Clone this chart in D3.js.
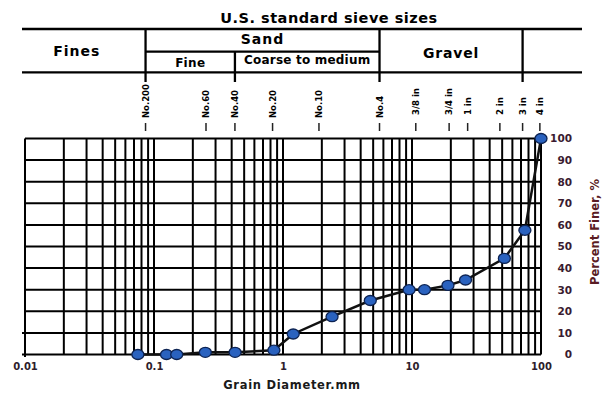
<!DOCTYPE html>
<html>
<head>
<meta charset="utf-8">
<script src="https://cdn.jsdelivr.net/npm/d3@7"></script>
<style>
  body { margin: 0; background: #fff; }
  text { font-family: "DejaVu Sans", sans-serif; font-weight: bold; }
</style>
</head>
<body>
<svg id="chart" width="610" height="401"></svg>
<script>
// Grain size distribution: diameter (mm) and percent finer (%)
let diameters = [0.075, 0.125, 0.15, 0.25, 0.425, 0.85, 1.2, 2.4, 4.75, 9.5, 12.5, 19, 26, 52, 75, 100];
let percentFiner = [0, 0, 0, 1, 1, 2, 9.5, 17.5, 25, 30, 30, 32, 34.5, 44.5, 57.5, 100];

// US sieve labels along the top and where they sit on the diameter axis (as drawn)
let sieveNames = ["No.200", "No.60", "No.40", "No.20", "No.10", "No.4",
                  "3/8 in", "3/4 in", "1 in", "2 in", "3 in", "4 in"];
let sievePos = [0.086, 0.253, 0.424, 0.83, 1.9, 5.6, 10.7, 19.4, 27, 48, 72, 98];

// tick labels
let xTicks = [0.01, 0.1, 1, 10, 100];
let yTicks = [0, 10, 20, 30, 40, 50, 60, 70, 80, 90, 100];

// soil classes in the header table (boundaries are sieve names)
let classBounds = ["No.200", "No.40", "No.4", "3 in"];

////////////////////////////////////////////////////////////////////////
// layout

let svg = d3.select("#chart");
let plotLeft = 25, plotRight = 541, plotTop = 138.5, plotBottom = 354.5;

let xScale = d3.scaleLog()
  .domain([0.01, 100])
  .range([plotLeft, plotRight]);

let yScale = d3.scaleLinear()
  .domain([0, 100])
  .range([plotBottom, plotTop]);

function sieveX(name) {
  return xScale(sievePos[sieveNames.indexOf(name)]);
}

////////////////////////////////////////////////////////////////////////
// header: title + soil class table

svg.append("text")
  .attr("x", 329).attr("y", 22.5)
  .attr("text-anchor", "middle")
  .attr("font-size", 14.5)
  .attr("letter-spacing", 0.5)
  .text("U.S. standard sieve sizes");

let tbl = svg.append("g")
  .attr("stroke", "#000")
  .attr("stroke-width", 2.3);

let tTop = 29, tMid = 51.7, tBot = 72.3, tEnd = 82;
let b200 = sieveX(classBounds[0]);
let b40 = sieveX(classBounds[1]);
let b4 = sieveX(classBounds[2]);
let b3in = sieveX(classBounds[3]);

tbl.append("line").attr("x1", 22).attr("x2", 582).attr("y1", tTop).attr("y2", tTop);
tbl.append("line").attr("x1", 22).attr("x2", 582).attr("y1", tBot).attr("y2", tBot);
tbl.append("line").attr("x1", b200).attr("x2", b4).attr("y1", tMid).attr("y2", tMid);
[b200, b4, b3in].forEach(function(x) {
  tbl.append("line").attr("x1", x).attr("x2", x).attr("y1", tTop).attr("y2", tEnd);
});
tbl.append("line").attr("x1", b40).attr("x2", b40).attr("y1", tMid).attr("y2", tEnd);

function cell(x, y, size, spacing, label) {
  svg.append("text")
    .attr("x", x).attr("y", y)
    .attr("text-anchor", "middle")
    .attr("font-size", size)
    .attr("letter-spacing", spacing)
    .text(label);
}
cell((22 + b200) / 2 - 7, 56, 14, 1, "Fines");
cell((b200 + b4) / 2, 44, 14, 1, "Sand");
cell((b200 + b40) / 2, 67, 12, 0.3, "Fine");
cell((b40 + b4) / 2, 64, 12, 0.2, "Coarse to medium");
cell((b4 + b3in) / 2, 58, 14, 0.8, "Gravel");

////////////////////////////////////////////////////////////////////////
// sieve labels on top of the plot

let sieves = svg.append("g");
sieveNames.forEach(function(name, i) {
  let x = xScale(sievePos[i]);
  let isInch = name.indexOf("in") > 0;
  sieves.append("line")
    .attr("x1", x).attr("x2", x)
    .attr("y1", 123).attr("y2", 131)
    .attr("stroke", "#222").attr("stroke-width", 1.5);
  sieves.append("text")
    .attr("transform", "translate(" + (x + 3) + "," + (isInch ? 115 : 118) + ") rotate(-90)")
    .attr("font-size", 8.5)
    .text(name);
});

////////////////////////////////////////////////////////////////////////
// grid

let minorX = [];
[0.01, 0.1, 1, 10].forEach(function(dec) {
  for (let k = 1; k <= 9; k++) minorX.push(dec * k);
});
minorX.push(100);

let grid = svg.append("g")
  .attr("stroke", "#000")
  .attr("stroke-width", 2);

grid.selectAll("line.v")
  .data(minorX)
  .enter()
  .append("line")
  .attr("class", "v")
  .attr("x1", function(d) { return xScale(d); })
  .attr("x2", function(d) { return xScale(d); })
  .attr("y1", plotTop)
  .attr("y2", function(d) { return d === 0.01 ? plotBottom + 2.5 : plotBottom; });

grid.selectAll("line.h")
  .data(yTicks)
  .enter()
  .append("line")
  .attr("class", "h")
  .attr("x1", function(d) { return d <= 10 ? plotLeft - 3 : plotLeft; })
  .attr("x2", plotRight)
  .attr("y1", function(d) { return yScale(d); })
  .attr("y2", function(d) { return yScale(d); });

////////////////////////////////////////////////////////////////////////
// axes labels

let xAxis = svg.append("g")
  .attr("transform", "translate(0," + plotBottom + ")")
  .call(d3.axisBottom(xScale)
    .tickValues(xTicks)
    .tickSize(0)
    .tickPadding(8)
    .tickFormat(function(d) { return String(d); }));
xAxis.select(".domain").remove();
xAxis.selectAll("text")
  .attr("font-family", "DejaVu Sans")
  .attr("font-size", 10)
  .attr("fill", "#2e1d2c");

let yAxis = svg.append("g")
  .attr("transform", "translate(" + plotRight + ",0)")
  .call(d3.axisRight(yScale)
    .tickValues(yTicks)
    .tickSize(0));
yAxis.select(".domain").remove();
yAxis.selectAll("text")
  .attr("x", 31)
  .attr("text-anchor", "end")
  .attr("font-family", "DejaVu Sans")
  .attr("font-size", 10.5)
  .attr("fill", "#3a1b30");

svg.append("text")
  .attr("x", 292).attr("y", 389)
  .attr("text-anchor", "middle")
  .attr("font-size", 11.5)
  .attr("letter-spacing", 0.7)
  .attr("fill", "#1a1a1a")
  .text("Grain Diameter.mm");

svg.append("text")
  .attr("transform", "translate(599,232) rotate(-90)")
  .attr("text-anchor", "middle")
  .attr("font-size", 11.5)
  .attr("fill", "#5a1c24")
  .text("Percent Finer, %");

////////////////////////////////////////////////////////////////////////
// gradation curve

let pts = diameters.map(function(d, i) { return [d, percentFiner[i]]; });

svg.append("path")
  .datum(pts)
  .attr("fill", "none")
  .attr("stroke", "#111")
  .attr("stroke-width", 2.5)
  .attr("d", d3.line()
    .x(function(d) { return xScale(d[0]); })
    .y(function(d) { return yScale(d[1]); }));

svg.append("g")
  .selectAll("ellipse")
  .data(pts)
  .enter()
  .append("ellipse")
  .attr("cx", function(d) { return xScale(d[0]); })
  .attr("cy", function(d) { return yScale(d[1]); })
  .attr("rx", 6)
  .attr("ry", 5)
  .attr("fill", "#2a62bf")
  .attr("stroke", "#0d2352")
  .attr("stroke-width", 1.3);
</script>
</body>
</html>
